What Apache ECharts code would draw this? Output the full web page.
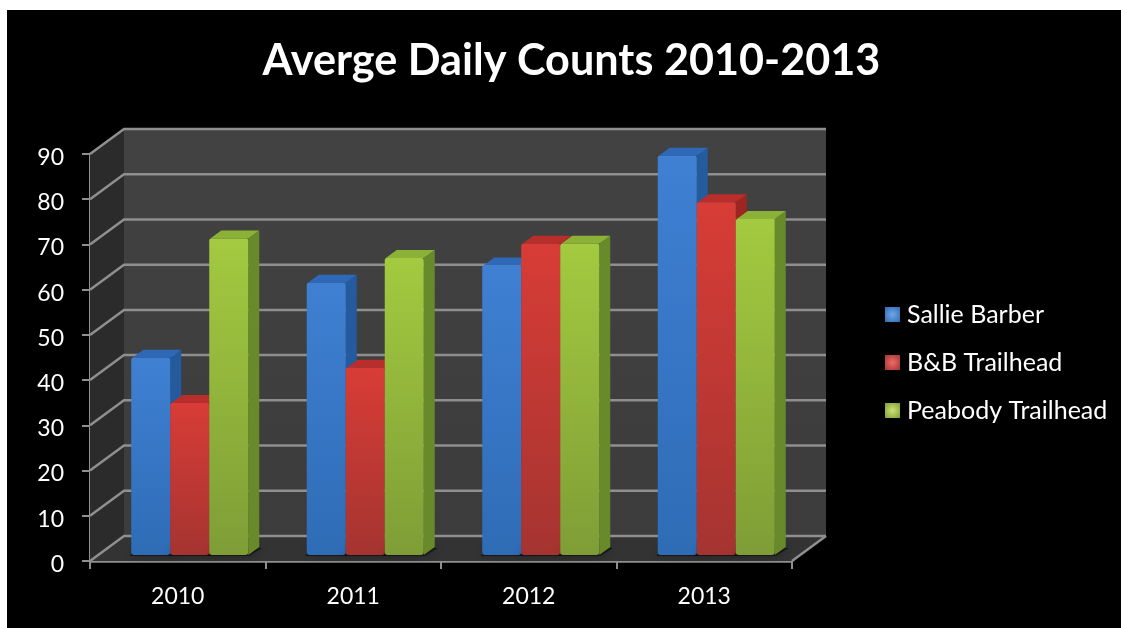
<!DOCTYPE html>
<html><head><meta charset="utf-8">
<style>html,body{margin:0;padding:0;background:#fff;overflow:hidden}
#c{position:absolute;left:7px;top:10px;width:1114px;height:618px;background:#000}</style>
<script src="https://cdn.jsdelivr.net/npm/echarts@6/dist/echarts.min.js"></script>
</head><body><div id="c"></div>
<script>
const categories = ['2010','2011','2012','2013'];
const sallieBarber = [43.6, 60.2, 64, 88.3];
const bbTrailhead = [33.6, 41.4, 68.8, 78];
const peabodyTrailhead = [70, 65.7, 68.8, 74.3];
const yTicks = [0,10,20,30,40,50,60,70,80,90];

const palette = {
  'Sallie Barber': {top:'#2e69b8', side:'#245a9e', f0:'#3f80d3', f1:'#2f6cb6', l:'#6fa6e6'},
  'B&B Trailhead': {top:'#b92d2a', side:'#9d2522', f0:'#d83c36', f1:'#a53431', l:'#ee6a66'},
  'Peabody Trailhead': {top:'#8bb137', side:'#688a2a', f0:'#a3ca40', f1:'#7f9d36', l:'#cde474'}
};
const WALL = {dx:34, dy:-25};
const BAR = {ox:12, oy:-6, w:39, dx:11, dy:-8};

const chart = echarts.init(document.getElementById('c'), null, {renderer:'canvas'});

function wallItem(params, api){
  const s = params.coordSys;
  const v = api.value(0);
  const p = api.coord([0, v]);
  const y = p[1], L = s.x, R = s.x + s.width;
  const line = '#8f8f8f';
  const children = [];
  if (params.dataIndex === 0){
    const T = s.y, B = s.y + s.height;
    children.push(
      {type:'polygon', shape:{points:[[L+WALL.dx,T+WALL.dy],[R+WALL.dx,T+WALL.dy],[R+WALL.dx,B+WALL.dy],[L+WALL.dx,B+WALL.dy]]},
       style:{fill:new echarts.graphic.LinearGradient(0,0,0,1,[{offset:0,color:'#424242'},{offset:1,color:'#3c3c3c'}])}},
      {type:'polygon', shape:{points:[[L,T],[L+WALL.dx,T+WALL.dy],[L+WALL.dx,B+WALL.dy],[L,B]]}, style:{fill:'#2b2b2b'}},
      {type:'polygon', shape:{points:[[L,B],[R,B],[R+WALL.dx,B+WALL.dy],[L+WALL.dx,B+WALL.dy]]}, style:{fill:'#333333'}}
    );
  }
  children.push({type:'polyline',
    shape:{points:[[L,y],[L+WALL.dx,y+WALL.dy],[R+WALL.dx,y+WALL.dy]]},
    style:{stroke:line, lineWidth:2.5, fill:null}});
  if (v === 0) children.push({type:'line', shape:{x1:R,y1:y,x2:R+WALL.dx,y2:y+WALL.dy}, style:{stroke:line,lineWidth:2.5}});
  return {type:'group', children};
}

function barItem(idx, name){
  const c = palette[name];
  return function(params, api){
    const cat = api.value(0), val = api.value(1);
    const top = api.coord([cat,val]), base = api.coord([cat,0]);
    const x = base[0] + BAR.ox + (idx-1.5)*BAR.w;
    const yB = base[1] + BAR.oy, yT = top[1] + BAR.oy;
    const r = x + BAR.w, d = BAR.dx, e = BAR.dy;
    return {type:'group', children:[
      {type:'polygon', shape:{points:[[x-2,yB+1],[r+1,yB+1],[r+d+3,yB+e+1],[x+d,yB+e-2]]},
        style:{fill:'rgba(0,0,0,0.45)', shadowBlur:10, shadowColor:'rgba(0,0,0,0.7)'}},
      {type:'polygon', shape:{points:[[r,yT],[r+d,yT+e],[r+d,yB+e],[r,yB]]}, style:{fill:c.side}},
      {type:'polygon', shape:{points:[[x+1,yT],[x+d+1,yT+e],[r+d,yT+e],[r,yT]]}, style:{fill:c.top}},
      {type:'rect', shape:{x:x, y:yT, width:BAR.w, height:yB-yT, r:[2,2,3,3]},
        style:{fill:new echarts.graphic.LinearGradient(0,0,0,1,[{offset:0,color:c.f0},{offset:1,color:c.f1}])}}
    ]};
  };
}

function legendFill(name){
  const c = palette[name];
  return new echarts.graphic.RadialGradient(0.5,0.5,0.7,[{offset:0,color:c.l},{offset:1,color:c.f1}]);
}

const seriesNames = ['Sallie Barber','B&B Trailhead','Peabody Trailhead'];
const seriesVals = [sallieBarber, bbTrailhead, peabodyTrailhead];
const font = 'Lato';

chart.setOption({
  animation:false,
  backgroundColor:'#000',
  title:{text:'Averge Daily Counts 2010-2013', left:559.5, top:25, textAlign:'center',
    textStyle:{color:'#fff', fontFamily:font, fontWeight:'bold', fontSize:43.2}},
  grid:{left:83, top:144, width:702, height:407, containLabel:false},
  xAxis:{type:'category', data:categories,
    axisLine:{lineStyle:{color:'#8f8f8f', width:2.5}},
    axisTick:{show:true, alignWithLabel:false, length:8, lineStyle:{color:'#8f8f8f', width:2}},
    axisLabel:{color:'#fff', fontFamily:font, fontSize:23, margin:24, interval:0},
    splitLine:{show:false}},
  yAxis:{type:'value', min:0, max:90, interval:10,
    axisLine:{show:true, lineStyle:{color:'#8f8f8f', width:2}},
    axisTick:{show:true, length:8, lineStyle:{color:'#8f8f8f', width:2}},
    axisLabel:{color:'#fff', fontFamily:font, fontSize:23, margin:26, verticalAlign:'top', lineHeight:7},
    splitLine:{show:false}},
  legend:{orient:'vertical', left:873, top:287, icon:'rect', itemWidth:15, itemHeight:15, itemGap:23,
    textStyle:{color:'#fff', fontFamily:font, fontSize:25, padding:[0,0,0,2]},
    data:seriesNames.map(n=>({name:n, itemStyle:{color:legendFill(n)}}))},
  series:[
    {type:'custom', name:'walls', z:1, silent:true, data:yTicks.map(t=>[t]), encode:{y:0},
     renderItem:wallItem},
    ...seriesNames.map((n,i)=>({
      type:'custom', name:n, z:3+i, silent:true,
      itemStyle:{color:palette[n].f0},
      data:categories.map((_,k)=>[k, seriesVals[i][k]]),
      encode:{x:0,y:1},
      renderItem:barItem(i,n)
    }))
  ]
});
</script></body></html>
